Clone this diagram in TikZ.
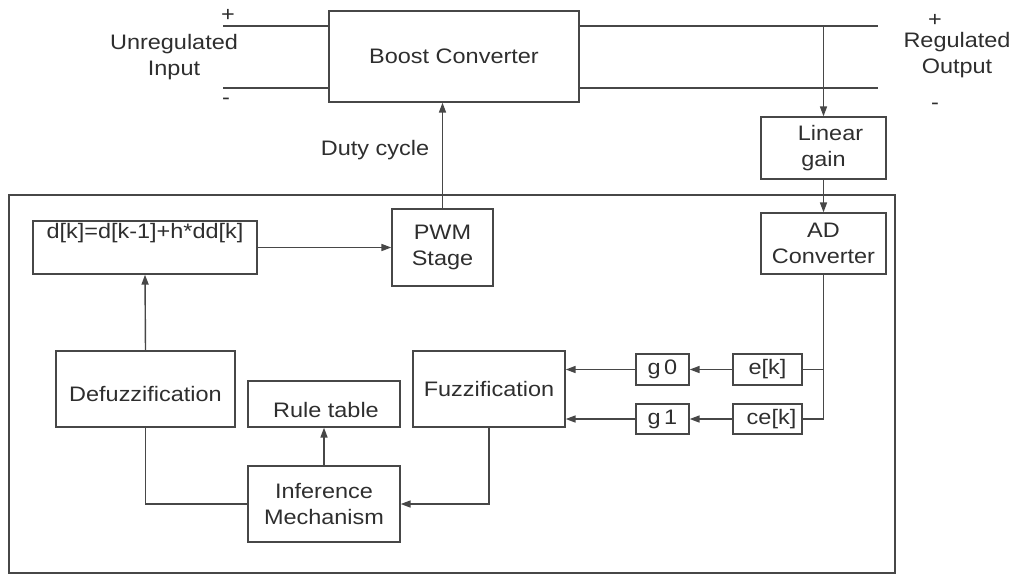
\documentclass[tikz,border=0pt]{standalone}
\usepackage{fontspec}
\setmainfont{Liberation Sans}[FakeStretch=1.12]
\usetikzlibrary{arrows.meta,positioning}
\definecolor{linecol}{HTML}{474747}
\definecolor{txtcol}{HTML}{2E2E2E}

\begin{document}
\begin{tikzpicture}[
        x=0.025cm, y=-0.025cm,
        font=\fontsize{14.9}{18}\selectfont,
        box/.style={rectangle, draw=linecol, line width=1pt, align=center, inner sep=0pt, text=txtcol},
        lbl/.style={align=center, inner sep=0pt, text=txtcol},
        wire/.style={draw=linecol, line width=1pt},
        arrow/.style={wire, -{Triangle[length=7pt, width=5pt]}}
    ]
        \useasboundingbox (0,0) rectangle (1016,575);

        % Controller frame
        \node[box, minimum width=22.15cm, minimum height=9.45cm] (ctrl) at (452,384) {};

        % Power stage
        \node[box, minimum width=6.25cm, minimum height=2.275cm] (boost) at (454,56.5) {Boost Converter};
        \node[box, minimum width=3.125cm, minimum height=1.55cm] (lingain) at (823.5,148) {\hspace*{0.35cm}Linear\\ gain};
        \node[box, minimum width=3.125cm, minimum height=1.525cm] (adc) at (823.5,243.5) {AD\\ Converter};

        % Terminals
        \coordinate (inpos) at (223,26);
        \coordinate (inneg) at (223,88);
        \coordinate (outpos) at (878,26);
        \coordinate (outneg) at (878,88);
        \node[lbl] (inplus) at (228,15) {+};
        \node[lbl] (inminus) at (226,101) {-};
        \node[lbl] (inlabel) at (174,57) {Unregulated\\ Input};
        \node[lbl] (outplus) at (935,20) {+};
        \node[lbl] (outminus) at (935,106) {-};
        \node[lbl] (outlabel) at (957,55) {Regulated\\ Output};
        \node[lbl] (duty) at (375,150) {Duty cycle};

        % Fuzzy controller
        \node[box, minimum width=5.6cm, minimum height=1.325cm] (update) at (145,247.5) {d[k]=d[k-1]+h*dd[k]\\ \strut};
        \node[box, minimum width=2.525cm, minimum height=1.925cm] (pwm) at (442.5,247.5) {PWM\\ Stage};
        \node[box, minimum width=4.475cm, minimum height=1.9cm, text height=0.6cm, text depth=0cm] (defuzz) at (145.5,389) {Defuzzification};
        \node[box, minimum width=3.8cm, minimum height=1.15cm, text height=0.68cm, text depth=0cm] (rules) at (324,404) {\hspace*{0.1cm}Rule table};
        \node[box, minimum width=3.8cm, minimum height=1.9cm] (infer) at (324,504) {Inference\\ Mechanism};
        \node[box, minimum width=3.8cm, minimum height=1.9cm] (fuzz) at (489,389) {Fuzzification};
        \node[box, minimum width=1.325cm, minimum height=0.775cm] (gzero) at (662.5,369.5) {g\,0};
        \node[box, minimum width=1.325cm, minimum height=0.75cm] (gone) at (662.5,419) {g\,1};
        \node[box, minimum width=1.725cm, minimum height=0.775cm] (err) at (767.5,369.5) {e[k]};
        \node[box, minimum width=1.725cm, minimum height=0.75cm] (cerr) at (767.5,419) {\hspace*{0.2cm}ce[k]};

        % Power lines
        \draw[wire] (inpos) -- (inpos -| boost.west);
        \draw[wire] (inneg) -- (inneg -| boost.west);
        \draw[wire] (outpos -| boost.east) -- (outpos);
        \draw[wire] (outneg -| boost.east) -- (outneg);

        % Feedback path
        \draw[arrow] (lingain.north |- outpos) -- (lingain.north);
        \draw[arrow] (lingain.south) -- (adc.north);
        \draw[wire] (adc.south) |- (cerr.east);
        \draw[wire] (err.east) -- (err.east -| adc.south);
        \draw[arrow] (err.west) -- (gzero.east);
        \draw[arrow] (cerr.west) -- (gone.east);
        \draw[arrow] (gzero.west) -- (gzero.west -| fuzz.east);
        \draw[arrow] (gone.west) -- (gone.west -| fuzz.east);
        \draw[arrow] (fuzz.south) |- (infer.east);
        \draw[arrow] (infer.north) -- (rules.south);
        \draw[wire] (infer.west) -| (defuzz.south);
        \draw[arrow] (defuzz.north) -- (update.south);
        \draw[arrow] (update.east) -- (pwm.west);
        \draw[arrow] (pwm.north) -- (pwm.north |- boost.south);

    \end{tikzpicture}
\end{document}
